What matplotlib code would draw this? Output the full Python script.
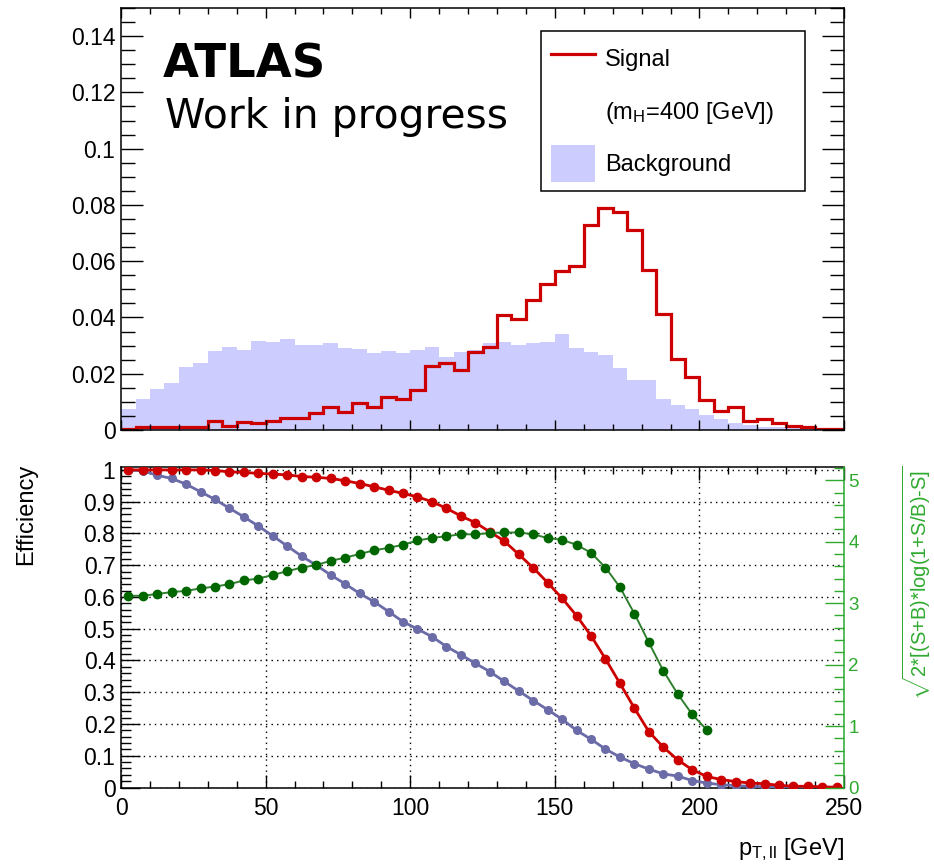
import numpy as np
import matplotlib
matplotlib.use("Agg")
import matplotlib.pyplot as plt
from matplotlib.ticker import MultipleLocator, FormatStrFormatter
from matplotlib.lines import Line2D
from matplotlib.patches import Patch

plt.rcParams["font.family"] = ["Liberation Sans", "DejaVu Sans"]
plt.rcParams["mathtext.fontset"] = "custom"
plt.rcParams["mathtext.rm"] = "Liberation Sans"
plt.rcParams["mathtext.it"] = "Liberation Sans:italic"
plt.rcParams["mathtext.default"] = "regular"

# pT,ll binning: 50 bins of 5 GeV
BIN_EDGES = np.arange(0, 255, 5)
BIN_CENTERS = 0.5 * (BIN_EDGES[:-1] + BIN_EDGES[1:])

# normalised distributions
signal = [
    0.0002, 0.0012, 0.0012, 0.0012, 0.0012, 0.0012, 0.0033, 0.0014, 0.0030, 0.0024,
    0.0033, 0.0041, 0.0041, 0.0059, 0.0083, 0.0065, 0.0095, 0.0080, 0.0118, 0.0109,
    0.0143, 0.0226, 0.0239, 0.0213, 0.0278, 0.0296, 0.0408, 0.0396, 0.0461, 0.0518,
    0.0565, 0.0583, 0.0730, 0.0789, 0.0775, 0.0710, 0.0568, 0.0412, 0.0254, 0.0189,
    0.0106, 0.0069, 0.0080, 0.0033, 0.0039, 0.0026, 0.0015, 0.0009, 0.0004, 0.0003,
]
background = [
    0.0073, 0.0109, 0.0144, 0.0166, 0.0225, 0.0237, 0.0282, 0.0294, 0.0284, 0.0317,
    0.0314, 0.0323, 0.0302, 0.0302, 0.0311, 0.0292, 0.0288, 0.0274, 0.0282, 0.0272,
    0.0284, 0.0294, 0.0260, 0.0278, 0.0284, 0.0310, 0.0314, 0.0302, 0.0308, 0.0314,
    0.0343, 0.0290, 0.0278, 0.0266, 0.0219, 0.0176, 0.0176, 0.0109, 0.0089, 0.0073,
    0.0053, 0.0038, 0.0024, 0.0018, 0.0012, 0.0010, 0.0006, 0.0003, 0.0002, 0.0001,
]

# cut efficiencies vs pT,ll threshold
sig_eff = [
    1.000, 1.000, 1.000, 1.000, 1.000, 1.000, 0.998, 0.994, 0.992, 0.989,
    0.987, 0.984, 0.979, 0.977, 0.973, 0.966, 0.957, 0.947, 0.936, 0.926,
    0.915, 0.900, 0.879, 0.855, 0.834, 0.805, 0.776, 0.734, 0.692, 0.645,
    0.596, 0.541, 0.478, 0.405, 0.328, 0.250, 0.176, 0.127, 0.087, 0.056,
    0.035, 0.025, 0.019, 0.014, 0.012, 0.007, 0.004, 0.004, 0.002, 0.001,
]
bkg_eff = [
    1.000, 0.997, 0.983, 0.973, 0.955, 0.931, 0.907, 0.879, 0.852, 0.823,
    0.792, 0.760, 0.728, 0.700, 0.669, 0.641, 0.611, 0.585, 0.554, 0.522,
    0.499, 0.475, 0.444, 0.418, 0.391, 0.365, 0.334, 0.304, 0.274, 0.245,
    0.215, 0.180, 0.152, 0.121, 0.096, 0.075, 0.058, 0.043, 0.036, 0.022,
    0.014, 0.009, 0.006, 0.004, 0.002, 0.001, 0.0005, 0.0003, 0.0001, 0.0,
]
# Asimov significance, defined only up to 202.5 GeV
significance = [
    3.12, 3.12, 3.15, 3.18, 3.20, 3.24, 3.27, 3.31, 3.37, 3.40,
    3.46, 3.52, 3.58, 3.62, 3.69, 3.74, 3.80, 3.86, 3.90, 3.95,
    4.02, 4.06, 4.09, 4.12, 4.12, 4.14, 4.15, 4.15, 4.12, 4.06,
    4.03, 3.95, 3.82, 3.58, 3.26, 2.83, 2.36, 1.90, 1.52, 1.19,
    0.94,
]

RED = "#cc0000"
LAVENDER = "#ccccff"
SLATE = "#6b6ba8"
DKGREEN = "#006600"
AXGREEN = "#2eaa2e"

fig = plt.figure(figsize=(9.34, 8.68), dpi=100)
ax_top = fig.add_axes([0.1296, 0.5046, 0.7741, 0.4862])
ax_lo = fig.add_axes([0.1296, 0.0927, 0.7741, 0.3696], sharex=ax_top)

# --- upper pad: distributions ---
ax_top.stairs(background, BIN_EDGES, fill=True, color=LAVENDER, lw=0)
ax_top.stairs(signal, BIN_EDGES, color=RED, lw=2.3)
ax_top.set_xlim(0, 250)
ax_top.set_ylim(0, 0.15)
ax_top.yaxis.set_major_locator(MultipleLocator(0.02))
ax_top.yaxis.set_minor_locator(MultipleLocator(0.005))
ax_top.yaxis.set_major_formatter(FormatStrFormatter("%g"))
ax_top.xaxis.set_major_locator(MultipleLocator(50))
ax_top.xaxis.set_minor_locator(MultipleLocator(10))
ax_top.tick_params(axis="both", which="both", direction="in", top=True, right=True,
                   labelbottom=False, labelsize=16.5, width=1)
ax_top.tick_params(axis="y", which="major", length=16, pad=4)
ax_top.tick_params(axis="y", which="minor", length=10)
ax_top.tick_params(axis="x", which="major", length=7.5)
ax_top.tick_params(axis="x", which="minor", length=4)
for s in ax_top.spines.values():
    s.set_linewidth(1.1)

handles = [
    Line2D([], [], color=RED, lw=2.3),
    Line2D([], [], alpha=0),
    Patch(facecolor=LAVENDER, edgecolor="none"),
]
labels = ["Signal", r"(m$_{H}$=400 [GeV])", "Background"]
leg = ax_top.legend(handles, labels, loc="upper left",
                    bbox_to_anchor=(0.581, 0.569, 0.365, 0.376), mode="expand",
                    fontsize=17, frameon=True, fancybox=False, framealpha=1,
                    edgecolor="black", borderaxespad=0, borderpad=0.4,
                    handlelength=1.9, handleheight=2.0, handletextpad=0.4,
                    labelspacing=0.67)
leg.get_frame().set_linewidth(1.1)

fig.text(163 / 934, 1 - 78 / 868, "ATLAS", fontsize=33.5, fontweight="bold",
         family="DejaVu Sans", va="baseline")
fig.text(165 / 934, 1 - 128 / 868, "Work in progress", fontsize=29.3,
         family="DejaVu Sans", va="baseline")

# --- lower pad: efficiencies and significance ---
ax_lo.plot(BIN_CENTERS, bkg_eff, color=SLATE, lw=2, marker="o", ms=5.5, zorder=3)
ax_lo.plot(BIN_CENTERS, sig_eff, color=RED, lw=2, marker="o", ms=6, zorder=4)
ax_lo.set_ylim(0, 1.01)
ax_lo.yaxis.set_major_locator(MultipleLocator(0.1))
ax_lo.yaxis.set_minor_locator(MultipleLocator(0.02))
ax_lo.yaxis.set_major_formatter(FormatStrFormatter("%g"))
ax_lo.xaxis.set_major_formatter(FormatStrFormatter("%g"))
ax_lo.grid(True, which="major", color="black", ls=(0, (1, 3)), lw=1)
ax_lo.tick_params(axis="both", which="both", direction="in", top=True, right=False,
                  labelsize=16.5, width=1)
ax_lo.tick_params(axis="y", which="major", length=14, pad=4)
ax_lo.tick_params(axis="y", which="minor", length=7)
ax_lo.tick_params(axis="x", which="major", length=9.5, pad=7)
ax_lo.tick_params(axis="x", which="minor", length=5)
for s in ax_lo.spines.values():
    s.set_linewidth(1.1)
ax_lo.spines["right"].set_visible(False)

ax_sig = ax_lo.twinx()
ax_sig.plot(BIN_CENTERS[:len(significance)], significance, color="#2f7f2f", lw=1.4,
            marker="o", ms=6, mfc=DKGREEN, mec=DKGREEN, zorder=5)
ax_sig.set_ylim(0, 5.22)
ax_sig.yaxis.set_major_locator(MultipleLocator(1))
ax_sig.yaxis.set_minor_locator(MultipleLocator(0.2))
ax_sig.tick_params(axis="y", which="both", direction="in", colors=AXGREEN,
                   labelsize=13.5, width=1)
ax_sig.tick_params(axis="y", which="major", length=14, pad=3)
ax_sig.tick_params(axis="y", which="minor", length=7)
for side in ["left", "top", "bottom"]:
    ax_sig.spines[side].set_visible(False)
ax_sig.spines["right"].set_color(AXGREEN)
ax_sig.spines["right"].set_linewidth(1.1)

fig.text(26 / 934, 1 - 464 / 868, "Efficiency", rotation=90, fontsize=17,
         ha="center", va="top")
fig.text(917 / 934, 1 - 466 / 868, r"$\sqrt{\text{2*[(S+B)*log(1+S/B)-S]}}$",
         rotation=90, fontsize=14.5, color=AXGREEN, ha="center", va="top")
fig.text(844 / 934, 1 - 855 / 868, r"p$_{T,ll}$ [GeV]", fontsize=17,
         ha="right", va="baseline")

fig.savefig("out.png", dpi=100)
